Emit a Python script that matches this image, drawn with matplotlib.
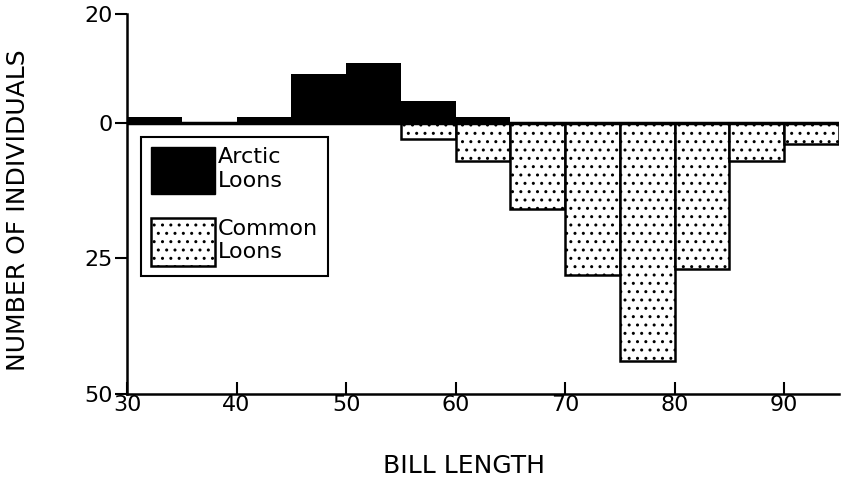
#Histogram of bill length for Arctic and Common loons (Arctic up, Common down)
import matplotlib
matplotlib.use('Agg')
import matplotlib.pyplot as plt
from matplotlib.patches import Patch

bin_edges = [30, 35, 40, 45, 50, 55, 60, 65, 70, 75, 80, 85, 90, 95]
arctic = [1, 0, 1, 9, 11, 4, 1, 0, 0, 0, 0, 0, 0]
common = [0, 0, 0, 0, 0, 3, 7, 16, 28, 44, 27, 7, 4]
ytick_pos = [20, 0, -25, -50]
ytick_labels = ['20', '0', '25', '50']
xticks = [30, 40, 50, 60, 70, 80, 90]

plt.rcParams['font.family'] = ['DejaVu Sans']
plt.rcParams['hatch.linewidth'] = 1.0

fig = plt.figure(figsize=(8.41, 4.78), dpi=100)
ax = fig.add_axes([127/841, 1-394/478, 712/841, 380/478])

lefts = bin_edges[:-1]
w = 5
ax.bar(lefts, arctic, width=w, align='edge', color='black', edgecolor='black', linewidth=0)
neg = [-c for c in common]
bars = ax.bar(lefts, neg, width=w, align='edge', facecolor='white', edgecolor='black',
              linewidth=1.8, hatch='..')
for b, c in zip(bars, common):
    if c == 0:
        b.set_visible(False)

ax.axhline(0, color='black', lw=2.5, zorder=3)

ax.set_xlim(30, 95)
ax.set_ylim(-50, 20)
ax.spines['top'].set_visible(False)
ax.spines['right'].set_visible(False)
ax.spines['left'].set_linewidth(1.8)
ax.spines['bottom'].set_linewidth(1.8)

ax.set_yticks(ytick_pos)
ax.set_yticklabels(ytick_labels)
ax.set_xticks(xticks)
ax.tick_params(axis='y', direction='out', length=9, width=1.5, pad=1, labelsize=16)
ax.tick_params(axis='x', direction='in', length=9, width=1.5, pad=1, labelsize=16)

fig.text(18/841, 1-210/478, 'NUMBER OF INDIVIDUALS', rotation=90, ha='center', va='center', fontsize=18)
fig.text(464/841, 1-466/478, 'BILL LENGTH', ha='center', va='center', fontsize=18)

handles = [Patch(facecolor='black', edgecolor='black'),
           Patch(facecolor='white', edgecolor='black', hatch='..', linewidth=1.8)]
leg = ax.legend(handles, ['Arctic\nLoons', 'Common\nLoons'], loc='upper left',
                bbox_to_anchor=((141-127)/712, (394-137)/380), fontsize=16,
                frameon=True, fancybox=False, shadow=False, framealpha=1,
                handlelength=2.9, handleheight=2.88, handletextpad=0.1,
                labelspacing=1.1, borderpad=0.45, borderaxespad=0)
leg.get_frame().set_edgecolor('black')
leg.get_frame().set_linewidth(1.5)

fig.savefig('out.png', dpi=100)
